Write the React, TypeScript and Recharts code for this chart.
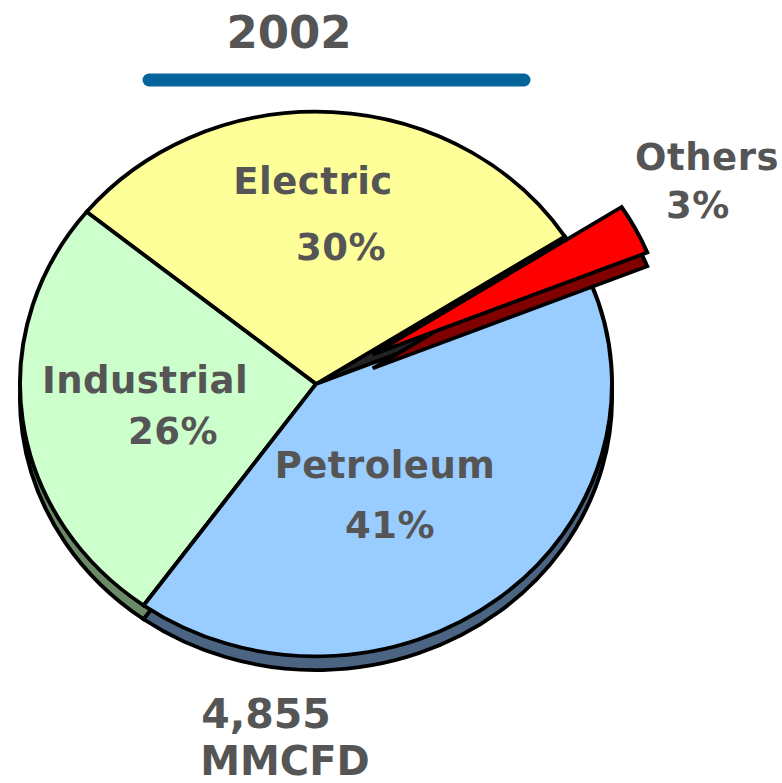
import { PieChart, Pie, Cell } from "recharts";

const SECTORS = ["Others", "Electric", "Industrial", "Petroleum"];
const SHARES = [3, 30, 26, 41];
const TOP_COLORS = ["#ff0000", "#ffff99", "#ccffcc", "#99ccff"];
const SIDE_COLORS = ["#800000", "#7f7f4c", "#6b8a67", "#4b6482"];
const YEAR = "2002";
const TOTAL = "4,855";
const UNIT = "MMCFD";

// label anchors (name line, then % line) per slice, same order as SECTORS
const LABEL_POS = [
  { x: 707, y: 170, px: 698, py: 218 },
  { x: 313, y: 194, px: 341, py: 260 },
  { x: 145, y: 393, px: 173, py: 444 },
  { x: 385, y: 478, px: 390, py: 538 },
];

// pie geometry (3d look: squashed vertically + offset side)
const CX = 316;
const CY = 384;
const R = 296;
const START = 22;
const SQUASH = 0.92;
const DEPTH = 15;
const EXPLODE = 64;
const STROKE = 4;

const data = SECTORS.map((name, i) => ({ name, value: SHARES[i] }));
const total = SHARES.reduce((s, v) => s + v, 0);
const midOthers = ((START + ((SHARES[0] / total) * 360) / 2) * Math.PI) / 180;
const ex = EXPLODE * Math.cos(midOthers);
const ey = (-EXPLODE * Math.sin(midOthers)) / SQUASH;

const txt = {
  fontFamily: "'DejaVu Sans', Verdana, sans-serif",
  fontWeight: 700,
  fill: "#555555",
  textAnchor: "middle" as const,
};

function SliceLabel(props: any) {
  const p = LABEL_POS[props.index];
  if (!p) return null;
  return (
    <g>
      <text x={p.x} y={p.y} style={{ ...txt, fontSize: 37, letterSpacing: 0.5 }}>{SECTORS[props.index]}</text>
      <text x={p.px} y={p.py} style={{ ...txt, fontSize: 37, letterSpacing: 0.5 }}>{`${SHARES[props.index]}%`}</text>
    </g>
  );
}

export default function App() {
  return (
    <div style={{ position: "absolute", left: 0, top: 0, width: 782, height: 783, background: "#fff" }}>
      <style>{`.squash { transform: scale(1, ${SQUASH}); transform-origin: ${CX}px ${CY}px; } .squash .squash { transform: none; }`}</style>
      <PieChart width={782} height={783} margin={{ top: 0, right: 0, bottom: 0, left: 0 }}>
        {/* side of the main pie */}
        <Pie
          className="squash"
          data={data}
          dataKey="value"
          nameKey="name"
          cx={CX}
          cy={CY + DEPTH}
          outerRadius={R}
          startAngle={START}
          endAngle={START + 360}
          stroke="#000"
          strokeWidth={STROKE}
          isAnimationActive={false}
        >
          {data.map((d, i) => (
            <Cell key={d.name} fill={i === 0 ? "#222" : SIDE_COLORS[i]} />
          ))}
        </Pie>
        {/* top face */}
        <Pie
          className="squash"
          data={data}
          dataKey="value"
          nameKey="name"
          cx={CX}
          cy={CY}
          outerRadius={R}
          startAngle={START}
          endAngle={START + 360}
          stroke="#000"
          strokeWidth={STROKE}
          isAnimationActive={false}
        >
          {data.map((d, i) => (
            <Cell key={d.name} fill={i === 0 ? "#222" : TOP_COLORS[i]} />
          ))}
        </Pie>
        {/* exploded slice: side */}
        <Pie
          className="squash"
          data={data}
          dataKey="value"
          nameKey="name"
          cx={CX + ex}
          cy={CY + ey + DEPTH}
          outerRadius={R}
          startAngle={START}
          endAngle={START + 360}
          stroke="none"
          isAnimationActive={false}
        >
          {data.map((d, i) => (
            <Cell
              key={d.name}
              fill={i === 0 ? SIDE_COLORS[0] : "none"}
              stroke={i === 0 ? "#000" : "none"}
              strokeWidth={STROKE}
            />
          ))}
        </Pie>
        {/* exploded slice: top */}
        <Pie
          className="squash"
          data={data}
          dataKey="value"
          nameKey="name"
          cx={CX + ex}
          cy={CY + ey}
          outerRadius={R}
          startAngle={START}
          endAngle={START + 360}
          stroke="none"
          isAnimationActive={false}
        >
          {data.map((d, i) => (
            <Cell
              key={d.name}
              fill={i === 0 ? TOP_COLORS[0] : "none"}
              stroke={i === 0 ? "#000" : "none"}
              strokeWidth={STROKE}
            />
          ))}
        </Pie>
        {/* labels only (unsquashed, invisible sectors) */}
        <Pie
          data={data}
          dataKey="value"
          nameKey="name"
          cx={CX}
          cy={CY}
          outerRadius={R}
          startAngle={START}
          endAngle={START + 360}
          fill="none"
          stroke="none"
          label={SliceLabel}
          labelLine={false}
          isAnimationActive={false}
        />

        {/* title */}
        <text x={289} y={48} style={{ ...txt, fontSize: 45 }}>{YEAR}</text>
        <line x1={149} y1={80} x2={524} y2={80} stroke="#05659b" strokeWidth={13} strokeLinecap="round" />

        {/* total */}
        <text x={266} y={728} style={{ ...txt, fontSize: 41 }}>{TOTAL}</text>
        <text x={285} y={775} style={{ ...txt, fontSize: 40 }}>{UNIT}</text>
      </PieChart>
    </div>
  );
}
